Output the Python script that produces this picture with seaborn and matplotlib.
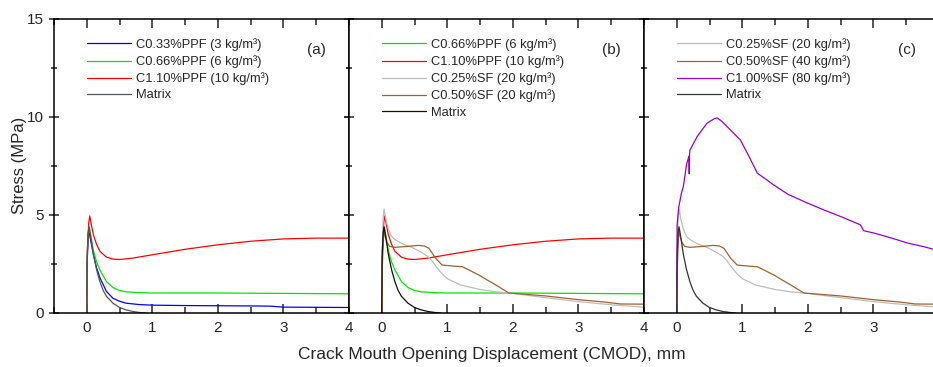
import matplotlib
matplotlib.use("Agg")
import matplotlib.pyplot as plt
import seaborn as sns
from matplotlib.ticker import MultipleLocator

# ==========================================
# DATA
# ==========================================
CMOD_MATRIX = [0, 0.005, 0.02, 0.035, 0.06, 0.1, 0.15, 0.2, 0.25, 0.3, 0.4, 0.5, 0.6, 0.7, 0.8, 0.9]
STRESS_MATRIX = [0, 2.8, 4.1, 4.4, 3.9, 3.0, 2.2, 1.6, 1.15, 0.85, 0.5, 0.28, 0.16, 0.08, 0.03, 0.0]

CMOD_PPF033 = [0, 0.005, 0.02, 0.03, 0.06, 0.1, 0.15, 0.2, 0.3, 0.4, 0.5, 0.6, 0.8, 1.0, 1.5, 2.0, 2.5, 2.8, 3.0, 3.5, 4.0]
STRESS_PPF033 = [0, 2.5, 3.8, 4.2, 3.7, 3.0, 2.3, 1.8, 1.1, 0.75, 0.6, 0.5, 0.43, 0.4, 0.38, 0.37, 0.36, 0.35, 0.3, 0.29, 0.28]

CMOD_PPF066 = [0, 0.005, 0.02, 0.04, 0.07, 0.1, 0.15, 0.2, 0.3, 0.4, 0.5, 0.6, 0.8, 1.0, 2.0, 3.0, 4.0]
STRESS_PPF066 = [0, 2.7, 4.0, 4.35, 3.8, 3.2, 2.6, 2.2, 1.6, 1.3, 1.15, 1.08, 1.04, 1.02, 1.02, 1.0, 0.98]

CMOD_PPF110 = [0, 0.01, 0.03, 0.045, 0.07, 0.1, 0.15, 0.2, 0.3, 0.4, 0.5, 0.7, 1.0, 1.5, 2.0, 2.5, 3.0, 3.5, 4.0]
STRESS_PPF110 = [0, 3.2, 4.6, 4.95, 4.5, 4.0, 3.5, 3.15, 2.85, 2.75, 2.73, 2.8, 2.97, 3.25, 3.48, 3.66, 3.78, 3.82, 3.82]

CMOD_SF025 = [0, 0.005, 0.02, 0.035, 0.06, 0.1, 0.15, 0.2, 0.3, 0.46, 0.6, 0.7, 0.77, 0.82, 0.92, 1.0, 1.2, 1.5, 1.74, 2.0, 2.5, 3.0, 3.5, 3.9, 4.0]
STRESS_SF025 = [0, 3.0, 4.8, 5.3, 4.8, 4.3, 3.9, 3.75, 3.55, 3.35, 3.1, 2.9, 2.65, 2.4, 2.0, 1.75, 1.43, 1.2, 1.08, 1.0, 0.78, 0.58, 0.42, 0.32, 0.3]

CMOD_SF050 = [0, 0.01, 0.03, 0.05, 0.08, 0.12, 0.2, 0.4, 0.55, 0.65, 0.72, 0.77, 0.82, 0.92, 1.0, 1.23, 1.48, 1.6, 1.74, 1.85, 1.94, 2.2, 2.5, 3.0, 3.4, 3.64, 4.0]
STRESS_SF050 = [0, 2.5, 4.3, 3.9, 3.6, 3.4, 3.35, 3.4, 3.45, 3.42, 3.3, 3.05, 2.8, 2.45, 2.42, 2.36, 1.94, 1.7, 1.43, 1.2, 1.02, 0.95, 0.87, 0.68, 0.56, 0.46, 0.45]

CMOD_SF100 = [0, 0.005, 0.03, 0.07, 0.1, 0.15, 0.185, 0.19, 0.195, 0.2, 0.31, 0.46, 0.58, 0.62, 0.69, 0.8, 0.97, 1.1, 1.23, 1.35, 1.48, 1.7, 2.0, 2.25, 2.51, 2.8, 2.85, 3.02, 3.3, 3.53, 3.75, 3.92, 4.0]
STRESS_SF100 = [0, 4.5, 5.4, 6.1, 6.45, 7.6, 8.0, 7.1, 8.1, 8.3, 9.0, 9.68, 9.93, 9.95, 9.77, 9.4, 8.83, 8.0, 7.13, 6.85, 6.53, 6.05, 5.6, 5.25, 4.91, 4.5, 4.2, 4.07, 3.8, 3.56, 3.4, 3.25, 3.2]

TICKS_X = [0, 1, 2, 3, 4]

# colores y etiquetas
C_BLUE, C_GREEN, C_RED = "#0000ff", "#00e600", "#ff0000"
C_GRAY, C_BROWN, C_PURPLE = "#bdbdbd", "#a0622d", "#9900cc"

PANELES = [
    ("(a)", [
        (CMOD_PPF033, STRESS_PPF033, C_BLUE, "C0.33%PPF (3 kg/m³)"),
        (CMOD_PPF066, STRESS_PPF066, C_GREEN, "C0.66%PPF (6 kg/m³)"),
        (CMOD_PPF110, STRESS_PPF110, C_RED, "C1.10%PPF (10 kg/m³)"),
        (CMOD_MATRIX, STRESS_MATRIX, "#555555", "Matrix"),
    ]),
    ("(b)", [
        (CMOD_PPF066, STRESS_PPF066, C_GREEN, "C0.66%PPF (6 kg/m³)"),
        (CMOD_PPF110, STRESS_PPF110, C_RED, "C1.10%PPF (10 kg/m³)"),
        (CMOD_SF025, STRESS_SF025, C_GRAY, "C0.25%SF (20 kg/m³)"),
        (CMOD_SF050, STRESS_SF050, C_BROWN, "C0.50%SF (20 kg/m³)"),
        (CMOD_MATRIX, STRESS_MATRIX, "#111111", "Matrix"),
    ]),
    ("(c)", [
        (CMOD_SF025, STRESS_SF025, C_GRAY, "C0.25%SF (20 kg/m³)"),
        (CMOD_SF050, STRESS_SF050, C_BROWN, "C0.50%SF (40 kg/m³)"),
        (CMOD_SF100, STRESS_SF100, C_PURPLE, "C1.00%SF (80 kg/m³)"),
        (CMOD_MATRIX, STRESS_MATRIX, "#333333", "Matrix"),
    ]),
]

sns.set_theme(style="ticks")
plt.rcParams["font.family"] = ["Liberation Sans", "DejaVu Sans"]
plt.rcParams["axes.linewidth"] = 1.1

fig = plt.figure(figsize=(9.33, 3.67), dpi=100)
W, H = 933, 367
lefts = [54, 349, 644]

for i, (etiqueta, series) in enumerate(PANELES):
    ax = fig.add_axes([lefts[i] / W, (H - 313) / H, 295 / W, 294 / H])
    for xs, ys, col, lab in series:
        sns.lineplot(x=xs, y=ys, ax=ax, color=col, linewidth=0.9, label=lab,
                     sort=False, estimator=None)
    ax.set_xlim(-0.5, 4)
    ax.set_ylim(0, 15)
    ax.xaxis.set_major_locator(MultipleLocator(1))
    ax.xaxis.set_minor_locator(MultipleLocator(0.5))
    ax.yaxis.set_major_locator(MultipleLocator(5))
    ax.yaxis.set_minor_locator(MultipleLocator(2.5))
    ax.tick_params(axis="x", which="both", direction="in", top=True, width=1.1,
                   labelsize=11, pad=6)
    ax.tick_params(axis="x", which="major", length=6.5)
    ax.tick_params(axis="x", which="minor", length=4.3)
    ax.tick_params(axis="y", which="both", direction="inout", right=True, width=1.1,
                   labelsize=11)
    ax.tick_params(axis="y", which="major", length=7)
    ax.tick_params(axis="y", which="minor", length=5)
    ax.set_xticks(TICKS_X)
    # el panel (c) queda recortado en el borde: sin la etiqueta "4"
    ax.set_xticklabels([str(t) if (i < 2 or t < 4) else "" for t in TICKS_X])
    if i > 0:
        ax.set_yticklabels([])
    for s in ax.spines.values():
        s.set_color("black")
    ax.set_xlabel("")
    ax.set_ylabel("")
    ax.legend(loc="upper left", bbox_to_anchor=(0.112, 0.935), frameon=False,
              fontsize=9.3, handlelength=3.4, handletextpad=0.4, labelspacing=0.33,
              borderpad=0, borderaxespad=0)
    ax.text(0.89, 0.895, etiqueta, transform=ax.transAxes, fontsize=11,
            ha="center", va="center")

fig.text(20 / W, 1 - 165 / H, "Stress (MPa)", rotation=90, fontsize=12,
         ha="center", va="center")
fig.text(492 / W, 1 - 355 / H, "Crack Mouth Opening Displacement (CMOD), mm",
         fontsize=12.5, ha="center", va="center")

fig.savefig("out.png", dpi=100)
